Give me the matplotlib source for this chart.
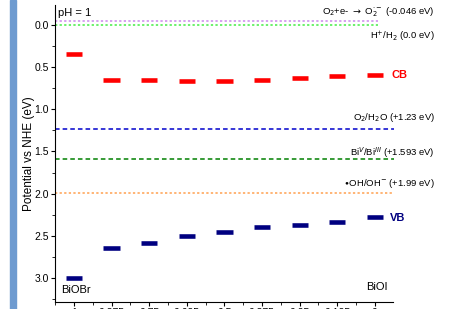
import numpy as np
import matplotlib.pyplot as plt
from matplotlib.patches import Rectangle
from matplotlib.ticker import MultipleLocator

plt.rcParams['font.family'] = ['Liberation Sans', 'DejaVu Sans']

# composition x in BiOBr(x)I(1-x)
x = [1, 0.875, 0.75, 0.625, 0.5, 0.375, 0.25, 0.125, 0]
cb = [0.35, 0.65, 0.65, 0.67, 0.66, 0.65, 0.63, 0.60, 0.59]
vb = [3.00, 2.64, 2.58, 2.50, 2.46, 2.40, 2.37, 2.34, 2.28]

# reference potentials
ref_vals = [-0.046, 0.0, 1.23, 1.593, 1.99]
ref_labels = [r'O$_2$+e- $\rightarrow$ O$_2^{\cdot-}$ (-0.046 eV)',
              r'H$^{+}$/H$_2$ (0.0 eV)',
              r'O$_2$/H$_2$O (+1.23 eV)',
              r'Bi$^{V}$/Bi$^{III}$ (+1.593 eV)',
              r'$\bullet$OH/OH$^{-}$ (+1.99 eV)']
ref_colors = ['#cc88ee', '#44ee44', '#0000cc', '#008000', '#ffa050']
ref_styles = [(0, (1.5, 1.5)), (0, (1.5, 1.5)), (0, (3, 2)), (0, (3, 2)), (0, (1.5, 1.5))]
ref_end = [-0.01, -0.01, -0.065, -0.065, -0.065]
label_y = [-0.15, 0.14, 1.10, 1.52, 1.885]

fig = plt.figure(figsize=(4.5, 3.09), dpi=100)
ax = fig.add_axes([0.1222, 0.0227, 0.7511, 0.9613])
fig.patches.append(Rectangle((10/450, 0), 6/450, 1, transform=fig.transFigure,
                             color='#6e9bd0', zorder=0))

xlo, xhi = 1.063, -0.06
for v, c, ls, xe in zip(ref_vals, ref_colors, ref_styles, ref_end):
    ax.plot([xlo, xe], [v, v], color=c, lw=1.1, linestyle=ls, clip_on=False)
for v, t in zip(label_y, ref_labels):
    ax.text(-0.199, v, t, ha='right', va='center', fontsize=6.8, clip_on=False)

hw = 0.027
ax.hlines(cb, np.array(x) - hw, np.array(x) + hw, color='red', lw=3.3)
ax.hlines(vb, np.array(x) - hw, np.array(x) + hw, color='#000080', lw=3.3)
ax.text(-0.056, 0.59, 'CB', color='red', fontsize=8, fontweight='bold', va='center')
ax.text(-0.05, 2.29, 'VB', color='#000080', fontsize=8, fontweight='bold', va='center')

ax.text(0.01, 0.99, 'pH = 1', transform=ax.transAxes, fontsize=8, va='top')
ax.text(1.043, 3.14, 'BiOBr', fontsize=8, va='center')
ax.text(-0.007, 3.11, 'BiOI', fontsize=8, va='center', ha='center')

ax.set_xlim(xlo, xhi)
ax.set_ylim(3.285, -0.237)
ax.set_xticks(x)
ax.set_xticklabels(['1', '0.875', '0.75', '0.625', '0.5', '0.375', '0.25', '0.125', '0'])
ax.xaxis.set_minor_locator(MultipleLocator(0.0625))
ax.yaxis.set_major_locator(MultipleLocator(0.5))
ax.yaxis.set_minor_locator(MultipleLocator(0.25))
ax.tick_params(labelsize=7.5, length=3, pad=1.5)
ax.tick_params(which='minor', length=2)
ax.set_ylabel('Potential vs NHE (eV)', fontsize=8.5, labelpad=-0.5)
ax.spines['top'].set_visible(False)
ax.spines['right'].set_visible(False)

fig.savefig('out.png', dpi=100)
